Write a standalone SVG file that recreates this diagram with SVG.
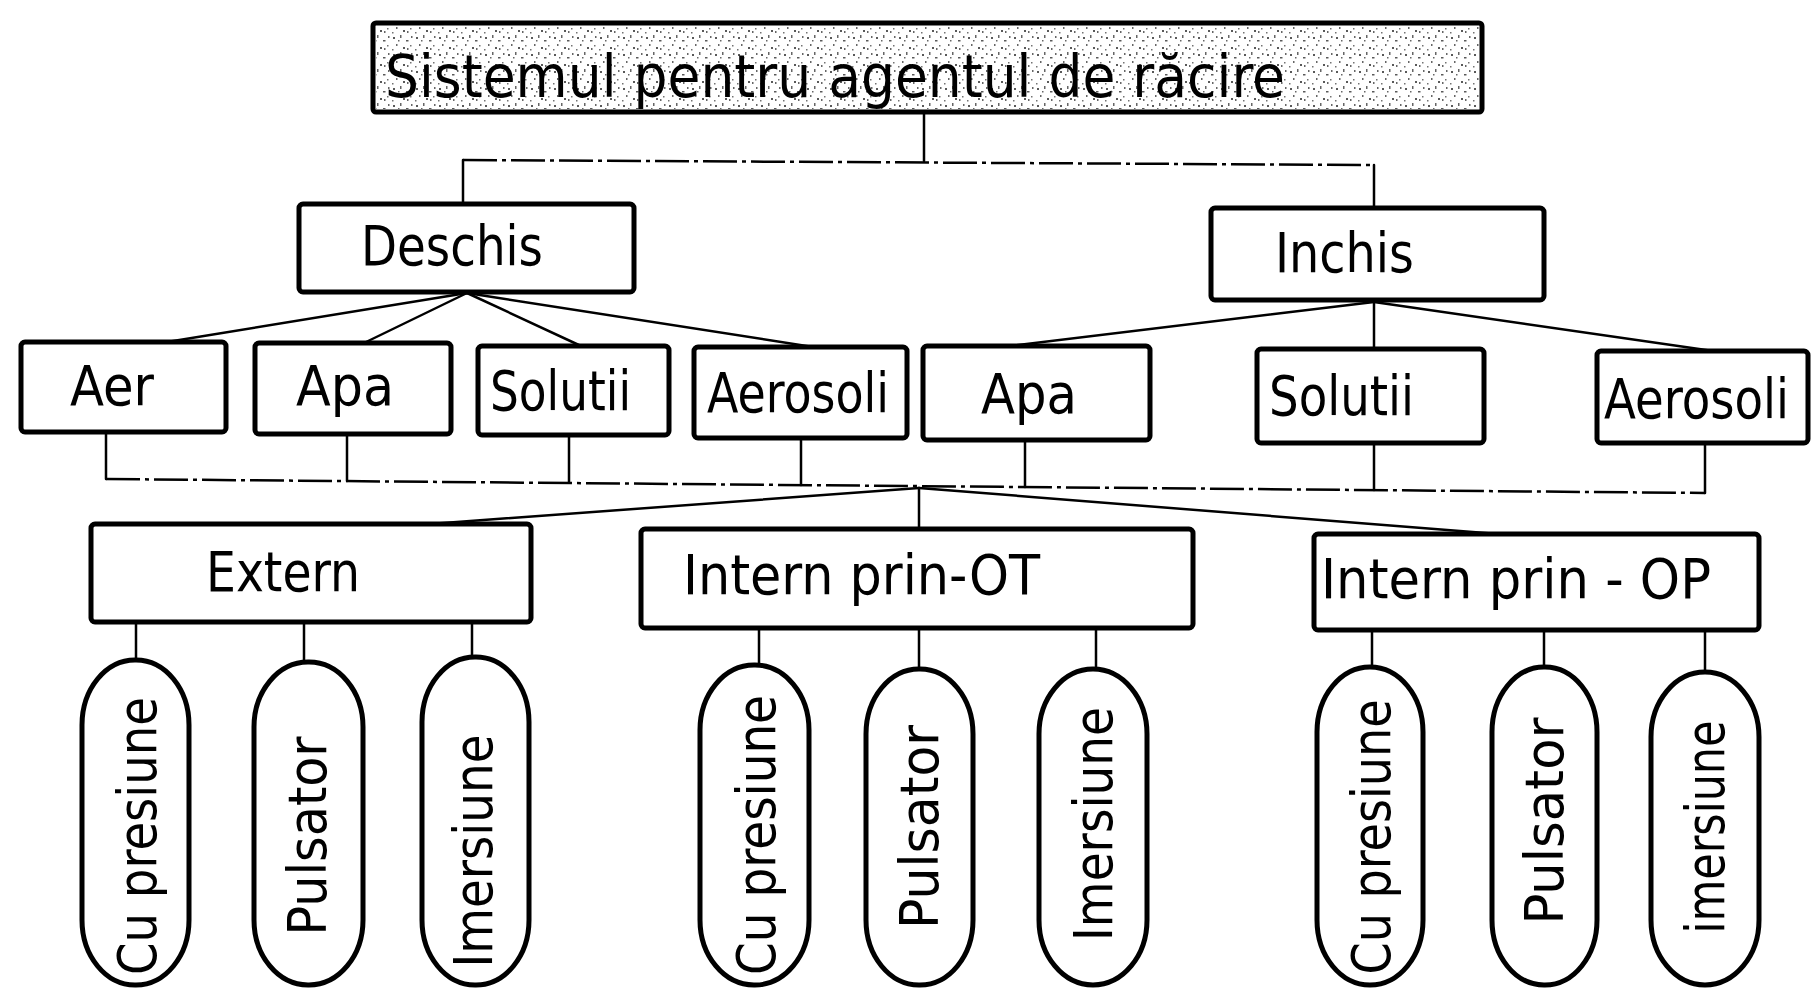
<svg xmlns="http://www.w3.org/2000/svg" width="1811" height="988" viewBox="0 0 1811 988">
<defs>
<pattern id="speck" width="23" height="17" patternUnits="userSpaceOnUse">
<rect x="2" y="3" width="2" height="2" fill="#222"/>
<rect x="9" y="1" width="1.5" height="3" fill="#333"/>
<rect x="15" y="6" width="2.5" height="1.5" fill="#222"/>
<rect x="5" y="10" width="1.5" height="2" fill="#333"/>
<rect x="12" y="13" width="2" height="2" fill="#222"/>
<rect x="19" y="11" width="1.5" height="1.5" fill="#444"/>
<rect x="20" y="2" width="1.5" height="2" fill="#333"/>
<rect x="1" y="15" width="1.5" height="1.5" fill="#444"/>
<rect x="7" y="6" width="1.5" height="1.5" fill="#333"/>
<rect x="16" y="14" width="1.5" height="2" fill="#333"/>
</pattern>
<style>
.box{fill:#fff;stroke:#000;stroke-width:5;stroke-linejoin:round}
.pill{fill:#fff;stroke:#000;stroke-width:5}
.ln{fill:none;stroke:#000;stroke-width:2.5;stroke-linecap:round}
.dl{fill:none;stroke:#000;stroke-width:2.5;stroke-dasharray:34 5 4 5}
.t{font-family:"DejaVu Sans Condensed","DejaVu Sans","Liberation Sans Narrow",sans-serif;font-stretch:condensed;fill:#000}
.h{font-size:55px}
.v{font-size:54px}
</style>
</defs>
<rect width="1811" height="988" fill="#fff"/>

<g id="connectors">
<line class="ln" x1="924" y1="112" x2="924" y2="161"/>
<polyline class="dl" points="463,160 1374,165"/>
<line class="ln" x1="463" y1="160" x2="463" y2="204"/>
<line class="ln" x1="1374" y1="165" x2="1374" y2="208"/>
<line class="ln" x1="467" y1="293" x2="167" y2="342"/>
<line class="ln" x1="467" y1="293" x2="364" y2="343"/>
<line class="ln" x1="467" y1="293" x2="581" y2="346"/>
<line class="ln" x1="467" y1="293" x2="813" y2="347"/>
<line class="ln" x1="1374" y1="302" x2="1010" y2="346"/>
<line class="ln" x1="1374" y1="302" x2="1374" y2="349"/>
<line class="ln" x1="1374" y1="302" x2="1713" y2="351"/>
<line class="ln" x1="106" y1="432" x2="106" y2="479"/>
<line class="ln" x1="347" y1="434" x2="347" y2="481"/>
<line class="ln" x1="569" y1="435" x2="569" y2="482"/>
<line class="ln" x1="801" y1="438" x2="801" y2="485"/>
<line class="ln" x1="1025" y1="440" x2="1025" y2="487"/>
<line class="ln" x1="1374" y1="443" x2="1374" y2="490"/>
<line class="ln" x1="1705" y1="443" x2="1705" y2="493"/>
<polyline class="dl" points="106,479 1705,493"/>
<line class="ln" x1="919" y1="488" x2="430" y2="524"/>
<line class="ln" x1="919" y1="488" x2="919" y2="529"/>
<line class="ln" x1="919" y1="488" x2="1498" y2="534"/>
<line class="ln" x1="136" y1="622" x2="136" y2="661"/>
<line class="ln" x1="304" y1="622" x2="304" y2="663"/>
<line class="ln" x1="472" y1="622" x2="472" y2="658"/>
<line class="ln" x1="759" y1="628" x2="759" y2="666"/>
<line class="ln" x1="919" y1="628" x2="919" y2="670"/>
<line class="ln" x1="1096" y1="628" x2="1096" y2="670"/>
<line class="ln" x1="1372" y1="630" x2="1372" y2="668"/>
<line class="ln" x1="1544" y1="630" x2="1544" y2="668"/>
<line class="ln" x1="1705" y1="630" x2="1705" y2="673"/>
</g>

<g id="n-root">
<rect class="box" x="373" y="23" width="1109" height="89" rx="3" stroke-width="6"/>
<rect x="376" y="26" width="1103" height="83" fill="url(#speck)" opacity="0.75"/>
<text class="t" x="385" y="97" font-size="59" textLength="900" lengthAdjust="spacingAndGlyphs">Sistemul pentru agentul de răcire</text>
</g>

<g id="n-deschis">
<rect class="box" x="299" y="204" width="335" height="88" rx="4"/>
<text class="t h" x="361" y="265" textLength="182" lengthAdjust="spacingAndGlyphs">Deschis</text>
</g>
<g id="n-inchis">
<rect class="box" x="1211" y="208" width="333" height="92" rx="4"/>
<text class="t h" x="1275" y="272" textLength="139" lengthAdjust="spacingAndGlyphs">Inchis</text>
</g>

<g id="n-aer">
<rect class="box" x="21" y="342" width="205" height="90" rx="4"/>
<text class="t h" x="70" y="405" textLength="84" lengthAdjust="spacingAndGlyphs">Aer</text>
</g>
<g id="n-apa1">
<rect class="box" x="255" y="343" width="196" height="91" rx="4"/>
<text class="t h" x="296" y="405" textLength="98" lengthAdjust="spacingAndGlyphs">Apa</text>
</g>
<g id="n-solutii1">
<rect class="box" x="478" y="346" width="191" height="89" rx="4"/>
<text class="t h" x="490" y="410" textLength="141" lengthAdjust="spacingAndGlyphs">Solutii</text>
</g>
<g id="n-aerosoli1">
<rect class="box" x="694" y="347" width="213" height="91" rx="4"/>
<text class="t h" x="707" y="412" textLength="182" lengthAdjust="spacingAndGlyphs">Aerosoli</text>
</g>
<g id="n-apa2">
<rect class="box" x="923" y="346" width="227" height="94" rx="4"/>
<text class="t h" x="981" y="413" textLength="96" lengthAdjust="spacingAndGlyphs">Apa</text>
</g>
<g id="n-solutii2">
<rect class="box" x="1257" y="349" width="227" height="94" rx="4"/>
<text class="t h" x="1269" y="415" textLength="145" lengthAdjust="spacingAndGlyphs">Solutii</text>
</g>
<g id="n-aerosoli2">
<rect class="box" x="1597" y="351" width="211" height="92" rx="4"/>
<text class="t h" x="1604" y="418" textLength="185" lengthAdjust="spacingAndGlyphs">Aerosoli</text>
</g>

<g id="n-extern">
<rect class="box" x="91" y="524" width="440" height="98" rx="4"/>
<text class="t h" x="206" y="591" textLength="154" lengthAdjust="spacingAndGlyphs">Extern</text>
</g>
<g id="n-intern-ot">
<rect class="box" x="641" y="529" width="552" height="99" rx="4"/>
<text class="t h" x="683" y="594" textLength="357" lengthAdjust="spacingAndGlyphs">Intern prin-OT</text>
</g>
<g id="n-intern-op">
<rect class="box" x="1314" y="534" width="445" height="96" rx="4"/>
<text class="t h" x="1321" y="598" textLength="390" lengthAdjust="spacingAndGlyphs">Intern prin - OP</text>
</g>

<g id="n-ext-cu">
<rect class="pill" x="82" y="660" width="107" height="325" rx="53" ry="65"/>
<text class="t v" transform="translate(156,836) rotate(-90)" text-anchor="middle" textLength="278" lengthAdjust="spacingAndGlyphs">Cu presiune</text>
</g>
<g id="n-ext-puls">
<rect class="pill" x="254" y="662" width="109" height="323" rx="54" ry="65"/>
<text class="t v" transform="translate(326,836) rotate(-90)" text-anchor="middle" textLength="199" lengthAdjust="spacingAndGlyphs">Pulsator</text>
</g>
<g id="n-ext-imer">
<rect class="pill" x="422" y="657" width="107" height="328" rx="53" ry="65"/>
<text class="t v" transform="translate(492,851) rotate(-90)" text-anchor="middle" textLength="233" lengthAdjust="spacingAndGlyphs">Imersiune</text>
</g>

<g id="n-ot-cu">
<rect class="pill" x="700" y="665" width="109" height="320" rx="54" ry="65"/>
<text class="t v" transform="translate(775,835) rotate(-90)" text-anchor="middle" textLength="280" lengthAdjust="spacingAndGlyphs">Cu presiune</text>
</g>
<g id="n-ot-puls">
<rect class="pill" x="866" y="669" width="107" height="316" rx="53" ry="65"/>
<text class="t v" transform="translate(938,827) rotate(-90)" text-anchor="middle" textLength="204" lengthAdjust="spacingAndGlyphs">Pulsator</text>
</g>
<g id="n-ot-imer">
<rect class="pill" x="1039" y="669" width="108" height="316" rx="54" ry="65"/>
<text class="t v" transform="translate(1112,824) rotate(-90)" text-anchor="middle" textLength="234" lengthAdjust="spacingAndGlyphs">Imersiune</text>
</g>

<g id="n-op-cu">
<rect class="pill" x="1317" y="667" width="106" height="318" rx="53" ry="65"/>
<text class="t v" transform="translate(1390,837) rotate(-90)" text-anchor="middle" textLength="275" lengthAdjust="spacingAndGlyphs">Cu presiune</text>
</g>
<g id="n-op-puls">
<rect class="pill" x="1492" y="667" width="105" height="318" rx="52" ry="65"/>
<text class="t v" transform="translate(1563,821) rotate(-90)" text-anchor="middle" textLength="207" lengthAdjust="spacingAndGlyphs">Pulsator</text>
</g>
<g id="n-op-imer">
<rect class="pill" x="1651" y="672" width="108" height="313" rx="54" ry="65"/>
<text class="t v" transform="translate(1724,827) rotate(-90)" text-anchor="middle" textLength="213" lengthAdjust="spacingAndGlyphs">imersiune</text>
</g>
</svg>
